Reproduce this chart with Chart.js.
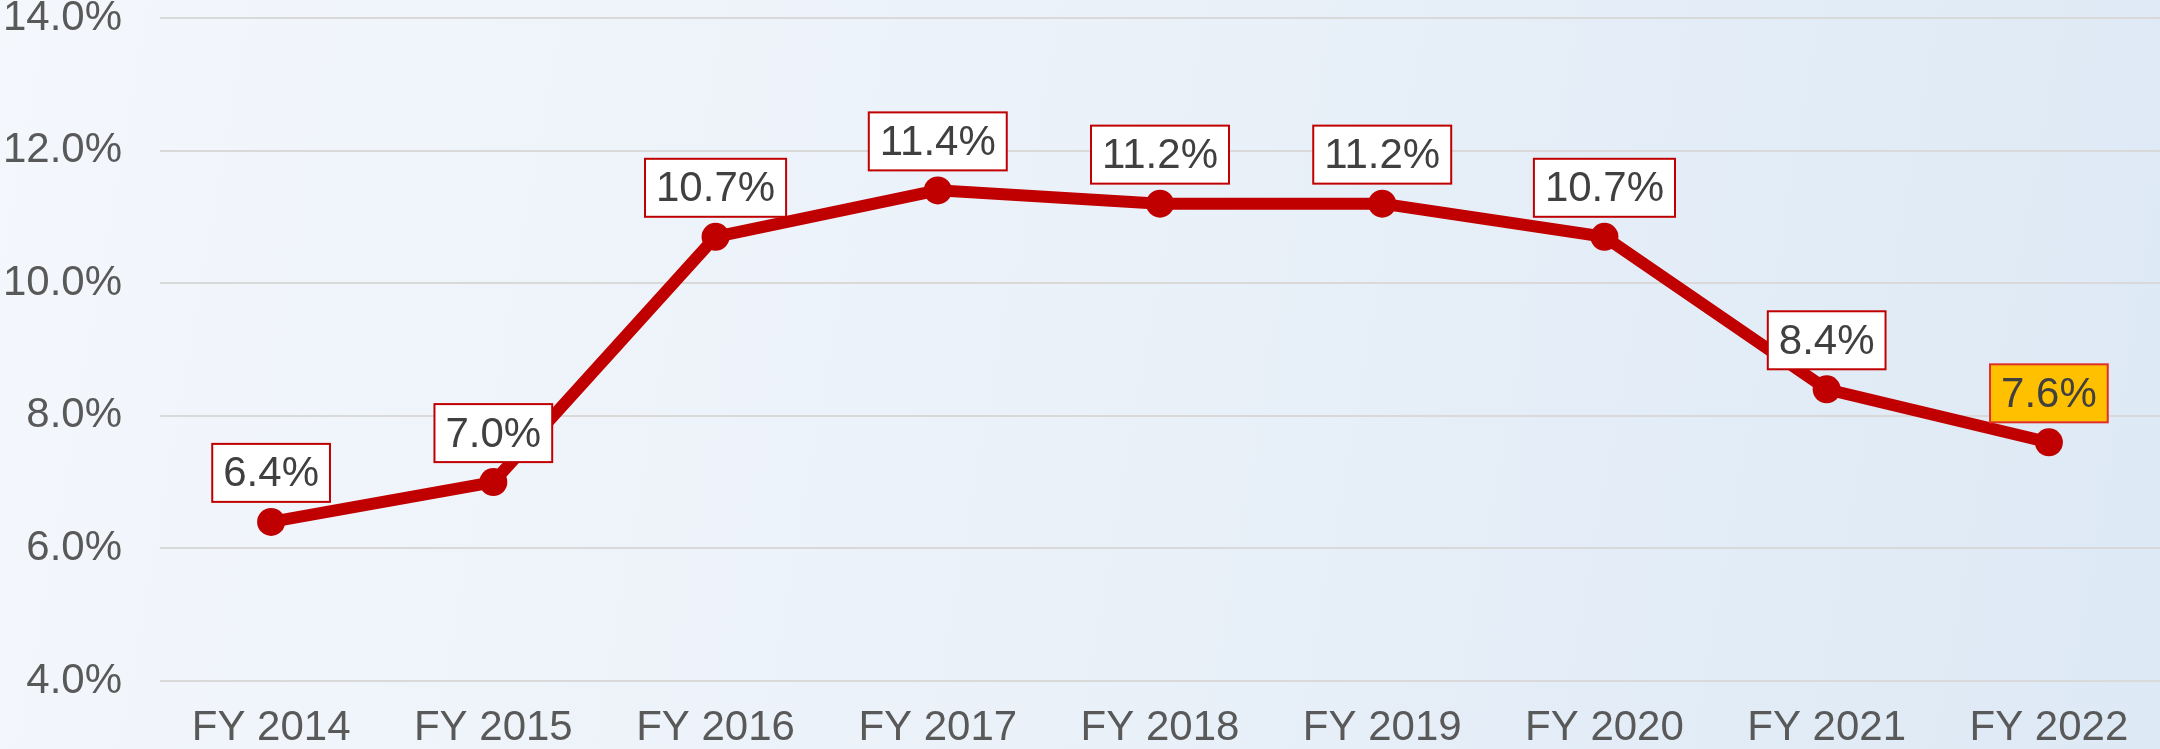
<!DOCTYPE html>
<html>
<head>
<meta charset="utf-8">
<script src="https://cdn.jsdelivr.net/npm/chart.js@4"></script>
<style>
  html, body { margin: 0; padding: 0; }
  body {
    width: 2160px; height: 749px; overflow: hidden;
    background: linear-gradient(100deg, #F4F7FC 0%, #EAF1F9 50%, #DDE9F5 100%);
  }
  #wrap { position: relative; width: 2160px; height: 749px; }
</style>
</head>
<body>
<div id="wrap"><canvas id="c" width="2160" height="749"></canvas></div>
<script>
const categories = ["FY 2014", "FY 2015", "FY 2016", "FY 2017", "FY 2018", "FY 2019", "FY 2020", "FY 2021", "FY 2022"];
const rateValues = [6.4, 7.0, 10.7, 11.4, 11.2, 11.2, 10.7, 8.4, 7.6];
const labelFills = ["#FFFFFF", "#FFFFFF", "#FFFFFF", "#FFFFFF", "#FFFFFF", "#FFFFFF", "#FFFFFF", "#FFFFFF", "#FFC000"];
const yTickMin = 4, yTickMax = 14, yTickStep = 2;

const FONT = "'Liberation Sans', Arial, sans-serif";

const labelPlugin = {
  id: 'boxLabels',
  afterDatasetsDraw(chart) {
    const ctx = chart.ctx;
    const meta = chart.getDatasetMeta(0);
    ctx.save();
    ctx.font = "42px " + FONT;
    ctx.textAlign = 'center';
    ctx.textBaseline = 'middle';
    meta.data.forEach((pt, i) => {
      const txt = rateValues[i].toFixed(1) + '%';
      const w = ctx.measureText(txt).width + 22;
      const h = 58;
      const x = pt.x - w / 2;
      const y = pt.y - 20 - h;
      ctx.fillStyle = labelFills[i];
      ctx.fillRect(x, y, w, h);
      ctx.lineWidth = 2;
      ctx.strokeStyle = i === rateValues.length - 1 ? '#E0302A' : '#C00000';
      ctx.strokeRect(x, y, w, h);
      ctx.fillStyle = '#404040';
      ctx.fillText(txt, pt.x, y + h / 2 + 2);
    });
    ctx.restore();
  }
};

new Chart(document.getElementById('c'), {
  type: 'line',
  data: {
    labels: categories,
    datasets: [{
      data: rateValues,
      borderColor: '#C00000',
      backgroundColor: '#C00000',
      borderWidth: 12,
      pointRadius: 14,
      pointHoverRadius: 14,
      pointBackgroundColor: '#C00000',
      pointBorderWidth: 0,
      tension: 0,
      clip: false
    }]
  },
  options: {
    responsive: false,
    animation: false,
    devicePixelRatio: 1,
    layout: { autoPadding: false, padding: { left: 0, right: 0, top: 0, bottom: 0 } },
    plugins: { legend: { display: false }, tooltip: { enabled: false } },
    scales: {
      x: {
        offset: true,
        grid: { display: false, drawTicks: false },
        border: { display: false },
        ticks: { color: '#595959', font: { family: FONT, size: 42 }, padding: 22, maxRotation: 0, autoSkip: false },
        afterFit(scale) { scale.height = 68; }
      },
      y: {
        min: yTickMin, max: yTickMax,
        grid: { color: '#D9D9D9', lineWidth: 2, drawTicks: false },
        border: { display: false },
        ticks: {
          stepSize: yTickStep,
          color: '#595959',
          font: { family: FONT, size: 42, lineHeight: 0.86 },
          padding: 38,
          callback: v => Number(v).toFixed(1) + '%'
        },
        afterFit(scale) { scale.width = 160; scale.paddingTop = 18; scale.paddingBottom = 18; }
      }
    }
  },
  plugins: [labelPlugin]
});
</script>
</body>
</html>
